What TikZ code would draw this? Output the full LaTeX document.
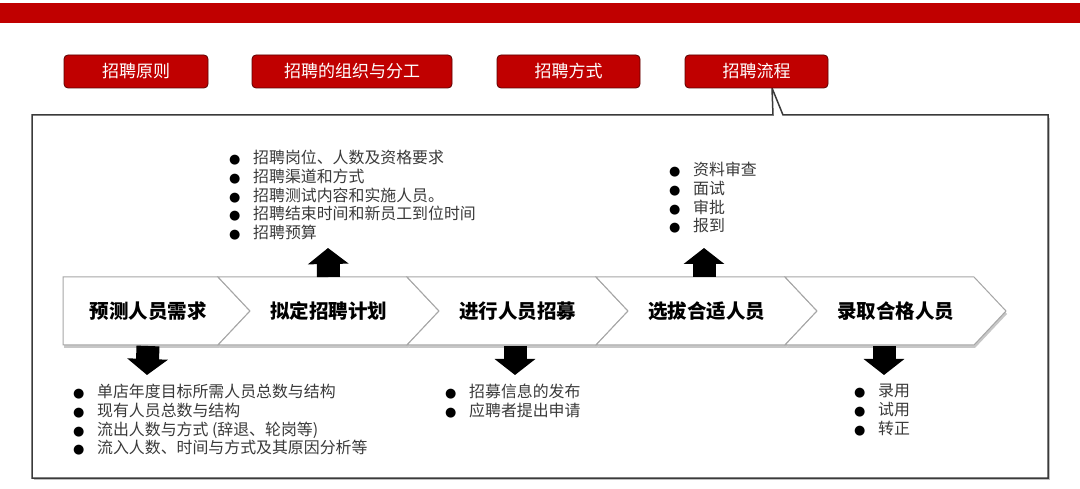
\documentclass[tikz,border=0pt]{standalone}
\usepackage{fontspec}
\setmainfont{Noto Sans CJK SC}
\newfontfamily\dotfont{DejaVu Sans}
\usetikzlibrary{arrows.meta}
\definecolor{hrred}{HTML}{C00000}
\definecolor{tabedge}{HTML}{5A0000}
\definecolor{boxgray}{HTML}{3A3A3A}
\definecolor{chevgray}{HTML}{A6A6A6}
\definecolor{listgray}{HTML}{3A3A3A}
\tikzset{
    tab/.style = {draw = tabedge, fill = hrred, rounded corners = 4pt, text = white,
        minimum height = 33pt, inner sep = 0pt, line width = 0.8pt,
        font = \fontsize{17}{17}\selectfont},
    stage/.style = {inner sep = 0pt, font = \bfseries\fontsize{19.5}{19.5}\selectfont},
    chevron/.style = {draw = chevgray, fill = white, line width = 1pt},
    bullets/.style = {align = left, inner sep = 0pt, text = listgray,
        font = \fontsize{15.9}{18.7}\selectfont},
    bigarrow/.style = {line width = 23pt, -{Triangle[width = 40pt, length = 16pt]}}
}
\newcommand{\itm}{\makebox[24pt][l]{\color{black}\dotfont\fontsize{13}{13}\selectfont ●}}

\begin{document}
\begin{tikzpicture}[x = 1pt, y = -1pt]
    \useasboundingbox (0, 0) rectangle (1080, 489);

    % top bar
    \fill[hrred] (0, 3) rectangle (1080, 23);

    % frame with callout
    \coordinate (ptr) at (772, 88);
    \fill[black!25] (34, 118) rectangle (1050, 480);
    \draw[boxgray, line width = 1.5pt, fill = white]
        (773, 115) -- (32, 115) -- (32, 478) -- (1048, 478) -- (1048, 115) -- (783, 115) -- (ptr) -- cycle;

    % tabs
    \node[tab, minimum width = 144pt] (principle) at (136, 71.5) {招聘原则};
    \node[tab, minimum width = 200pt] (organize) at (352, 71.5) {招聘的组织与分工};
    \node[tab, minimum width = 143pt] (method) at (568.5, 71.5) {招聘方式};
    \node[tab, minimum width = 143pt] (process) at (756.5, 71.5) {招聘流程};

    % chevrons
    \fill[black!22] (64, 280) -- (219, 280) -- (251, 314) -- (219, 348) -- (64, 348) -- cycle;
    \foreach \a/\b in {218/407, 407/596, 596/785, 785/974}
        \fill[black!22] (\a+1, 280) -- (\b+1, 280) -- (\b+33, 314) -- (\b+1, 348) -- (\a+1, 348) -- (\a+33, 314) -- cycle;
    \draw[chevron] (63, 277) -- (218, 277) -- (250, 311) -- (218, 345) -- (63, 345) -- cycle;
    \foreach \a/\b in {218/407, 407/596, 596/785, 785/974}
        \draw[chevron] (\a, 277) -- (\b, 277) -- (\b+32, 311) -- (\b, 345) -- (\a, 345) -- (\a+32, 311) -- cycle;

    \node[stage] (st1) at (148, 311) {预测人员需求};
    \node[stage] (st2) at (328.5, 311) {拟定招聘计划};
    \node[stage] (st3) at (517.5, 311) {进行人员招募};
    \node[stage] (st4) at (706.5, 311) {选拔合适人员};
    \node[stage] (st5) at (895.5, 311) {录取合格人员};

    % lists
    \node[bullets, anchor = north west] (plan) at (229, 150)
        {\itm 招聘岗位、人数及资格要求\\ \itm 招聘渠道和方式\\ \itm 招聘测试内容和实施人员。\\
         \itm 招聘结束时间和新员工到位时间\\ \itm 招聘预算};
    \node[bullets, anchor = north west] (select) at (669, 162)
        {\itm 资料审查\\ \itm 面试\\ \itm 审批\\ \itm 报到};
    \node[bullets, anchor = north west] (demand) at (73, 384)
        {\itm 单店年度目标所需人员总数与结构\\ \itm 现有人员总数与结构\\
         \itm 流出人数与方式 (辞退、轮岗等)\\ \itm 流入人数、时间与方式及其原因分析等};
    \node[bullets, anchor = north west] (recruit) at (445, 384)
        {\itm 招募信息的发布\\ \itm 应聘者提出申请};
    \node[bullets, anchor = north west] (hire) at (854, 384)
        {\itm 录用\\ \itm 试用\\ \itm 转正};

    % block arrows
    \coordinate (up2) at (328, 248);
    \coordinate (up4) at (704, 248);
    \coordinate (dn1) at (147, 375);
    \coordinate (dn3) at (515, 375);
    \coordinate (dn5) at (884, 375);
    \draw[bigarrow] (st2 |- 0, 277) -- (up2);
    \draw[bigarrow] (704, 277) -- (up4);
    \draw[bigarrow] (st1 |- 0, 346) -- (dn1);
    \draw[bigarrow] (515, 346) -- (dn3);
    \draw[bigarrow] (884, 346) -- (dn5);
\end{tikzpicture}
\end{document}
